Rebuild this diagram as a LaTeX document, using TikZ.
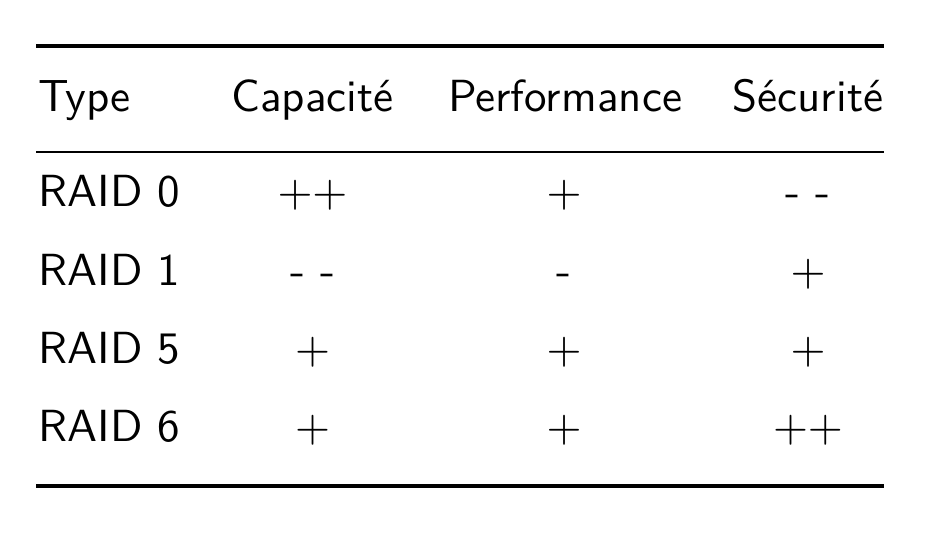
\documentclass[tikz,border=0pt]{standalone}
\usepackage{fontspec}
\begin{document}
\begin{tikzpicture}[x=0.2222pt,y=-0.2222pt,
  cell/.style={inner sep=0pt,anchor=base,font=\fontsize{10}{12}\selectfont\sffamily},
  lcell/.style={cell,anchor=base west},
  heavy/.style={line width=0.85pt},
  light/.style={line width=0.5pt}]
\useasboundingbox (0,0) rectangle (930,533);
% rules
\coordinate (tl) at (36,46);   \coordinate (tr) at (884,46);
\coordinate (ml) at (36,152);  \coordinate (mr) at (884,152);
\coordinate (bl) at (36,486);  \coordinate (br) at (884,486);
\draw[heavy] (tl) -- (tr);
\draw[light] (ml) -- (mr);
\draw[heavy] (bl) -- (br);
% header
\node[lcell] (h0) at (37.5,111.5) {Type};
\node[cell] (h1) at (312.5,111.5) {Capacité};
\node[cell] (h2) at (565,111.5) {Performance};
\node[cell] (h3) at (808,111.5) {Sécurité};
% rows
\node[lcell] (r0) at (37.5,206.5) {RAID 0};
\node[cell] (r0a) at (312.5,206.5) {$++$};
\node[cell] (r0b) at (564,206.5) {$+$};
\node[cell] (r0c) at (808,206.5) {- -};
\node[lcell] (r1) at (37.5,285) {RAID 1};
\node[cell] (r1a) at (312.5,285) {- -};
\node[cell] (r1b) at (564,285) {-};
\node[cell] (r1c) at (808,285) {$+$};
\node[lcell] (r5) at (37.5,363) {RAID 5};
\node[cell] (r5a) at (312.5,363) {$+$};
\node[cell] (r5b) at (564,363) {$+$};
\node[cell] (r5c) at (808,363) {$+$};
\node[lcell] (r6) at (37.5,441.5) {RAID 6};
\node[cell] (r6a) at (312.5,441.5) {$+$};
\node[cell] (r6b) at (564,441.5) {$+$};
\node[cell] (r6c) at (808,441.5) {$++$};
\end{tikzpicture}
\end{document}
